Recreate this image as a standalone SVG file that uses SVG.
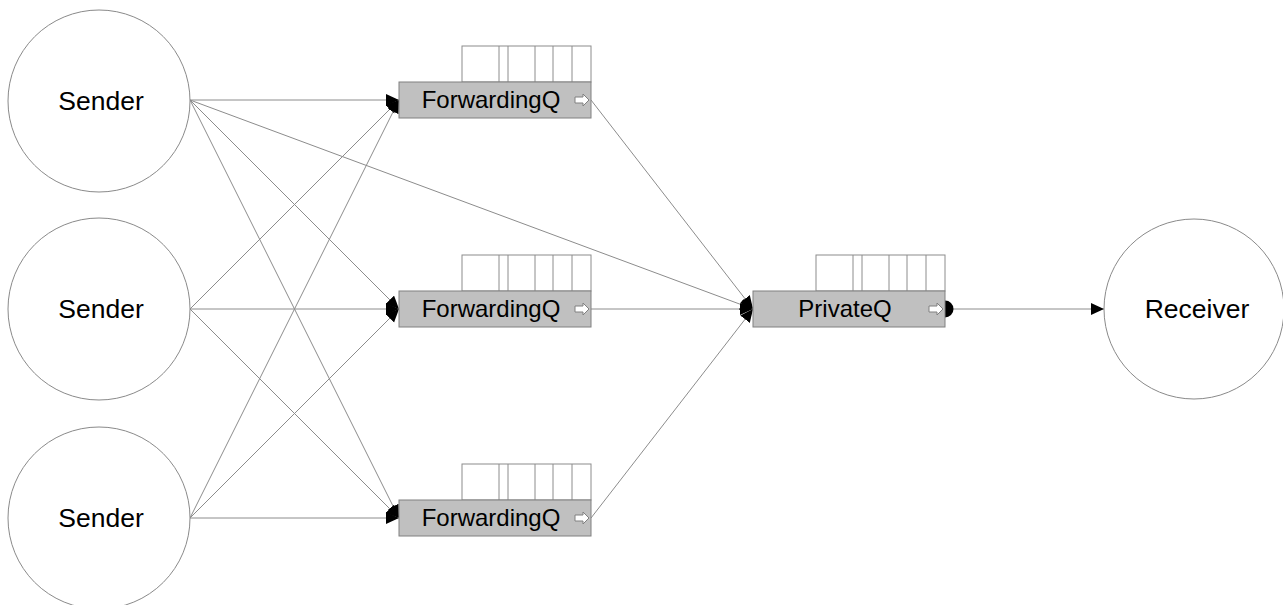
<svg xmlns="http://www.w3.org/2000/svg" width="1283" height="605" viewBox="0 0 1283 605">
<defs>
<style>
.circ{fill:#fff;stroke:#8a8a8a;stroke-width:1}
.lbl{font-family:"Liberation Sans",Arial,sans-serif;fill:#000;text-anchor:middle}
.big{font-size:26.5px}
.q{font-size:24px}
.box{fill:#c0c0c0;stroke:#808080;stroke-width:1}
.slot{fill:#fff;stroke:#8c8c8c;stroke-width:1}
.warr{fill:#fff;stroke:#808080;stroke-width:1}
.con{stroke:#8c8c8c;stroke-width:1;fill:none;marker-end:url(#ah)}
</style>
<marker id="ah" markerUnits="userSpaceOnUse" markerWidth="13" markerHeight="13" refX="13" refY="6" orient="auto"><path d="M0,0 L13,6 L0,12 Z" fill="#000"/></marker>
<marker id="dot" markerUnits="userSpaceOnUse" markerWidth="18" markerHeight="18" refX="9" refY="9" orient="auto"><circle cx="9" cy="9" r="8.5" fill="#000"/></marker>
<g id="qslots">
<rect class="slot" x="63" y="-36" width="129" height="36"/>
<line x1="100" y1="-36" x2="100" y2="0" stroke="#8c8c8c"/>
<line x1="109" y1="-36" x2="109" y2="0" stroke="#8c8c8c"/>
<line x1="136" y1="-36" x2="136" y2="0" stroke="#8c8c8c"/>
<line x1="154" y1="-36" x2="154" y2="0" stroke="#8c8c8c"/>
<line x1="173" y1="-36" x2="173" y2="0" stroke="#8c8c8c"/>
</g>
<path id="warrow" class="warr" d="M-15,-3 L-7,-3 L-7,-6 L-1,0 L-7,6 L-7,3 L-15,3 Z"/>
</defs>

<g id="connectors">
<line class="con" x1="190" y1="100" x2="399" y2="100"/>
<line class="con" x1="190" y1="100" x2="399" y2="309"/>
<line class="con" x1="190" y1="100" x2="399" y2="518"/>
<line class="con" x1="190" y1="100" x2="753" y2="309"/>
<line class="con" x1="190" y1="309" x2="399" y2="100"/>
<line class="con" x1="190" y1="309" x2="399" y2="309"/>
<line class="con" x1="190" y1="309" x2="399" y2="518"/>
<line class="con" x1="190" y1="518" x2="399" y2="100"/>
<line class="con" x1="190" y1="518" x2="399" y2="309"/>
<line class="con" x1="190" y1="518" x2="399" y2="518"/>
<line class="con" x1="591" y1="100" x2="753" y2="309"/>
<line class="con" x1="591" y1="309" x2="753" y2="309"/>
<line class="con" x1="591" y1="518" x2="753" y2="309"/>
<line class="con" x1="945" y1="309" x2="1104" y2="309" marker-start="url(#dot)"/>
</g>

<g id="sender1"><circle class="circ" cx="99" cy="101" r="91"/><text class="lbl big" x="101" y="110">Sender</text></g>
<g id="sender2"><circle class="circ" cx="99" cy="309" r="91"/><text class="lbl big" x="101" y="318">Sender</text></g>
<g id="sender3"><circle class="circ" cx="99" cy="518" r="91"/><text class="lbl big" x="101" y="527">Sender</text></g>
<g id="receiver"><circle class="circ" cx="1194" cy="309" r="90"/><text class="lbl big" x="1197" y="318">Receiver</text></g>

<g id="fq1" transform="translate(399,82)">
<use href="#qslots"/>
<rect class="box" x="0" y="0" width="192" height="36"/>
<text class="lbl q" x="92" y="26">ForwardingQ</text>
<use href="#warrow" transform="translate(191,18)"/>
</g>
<g id="fq2" transform="translate(399,291)">
<use href="#qslots"/>
<rect class="box" x="0" y="0" width="192" height="36"/>
<text class="lbl q" x="92" y="26">ForwardingQ</text>
<use href="#warrow" transform="translate(191,18)"/>
</g>
<g id="fq3" transform="translate(399,500)">
<use href="#qslots"/>
<rect class="box" x="0" y="0" width="192" height="36"/>
<text class="lbl q" x="92" y="26">ForwardingQ</text>
<use href="#warrow" transform="translate(191,18)"/>
</g>
<g id="privateq" transform="translate(753,291)">
<use href="#qslots"/>
<rect class="box" x="0" y="0" width="192" height="36"/>
<text class="lbl q" x="92" y="26">PrivateQ</text>
<use href="#warrow" transform="translate(191,18)"/>
</g>
</svg>
